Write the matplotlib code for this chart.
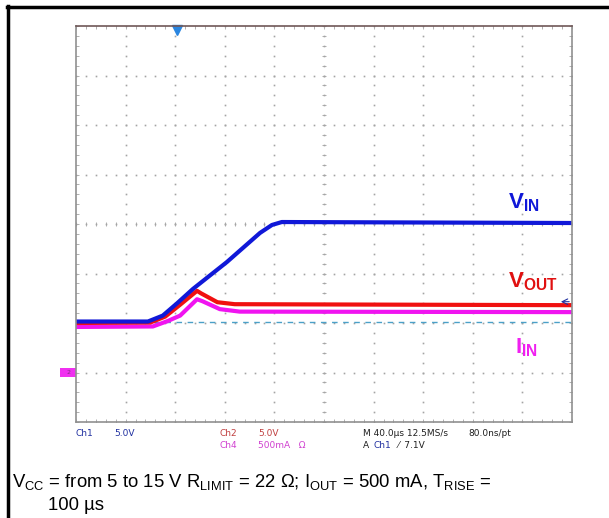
import numpy as np
import matplotlib.pyplot as plt
from matplotlib.lines import Line2D
from matplotlib.patches import Rectangle

plt.rcParams['mathtext.fontset'] = 'custom'
plt.rcParams['mathtext.rm'] = 'Liberation Sans'
plt.rcParams['mathtext.bf'] = 'Liberation Sans:bold'

# waveform key points, in divisions (x: 40 us/div, y: screen divisions)
t_vin = [0, 1.45, 1.75, 2.04, 2.36, 3.04, 3.71, 3.95, 4.15, 10]
vin = [2.03, 2.03, 2.15, 2.4, 2.69, 3.23, 3.82, 3.98, 4.04, 4.02]

t_vout = [0, 1.5, 1.8, 2.1, 2.44, 2.52, 2.85, 3.2, 10]
vout = [2.0, 2.01, 2.13, 2.37, 2.65, 2.6, 2.42, 2.38, 2.36]

t_iin = [0, 1.55, 1.85, 2.1, 2.44, 2.55, 2.9, 3.3, 10]
iin = [1.92, 1.93, 2.04, 2.15, 2.48, 2.44, 2.28, 2.23, 2.22]

ref_level = 2.02
trig_level = 2.43
trig_pos = 2.04
gnd4 = 1.0

fig = plt.figure(figsize=(6.09, 5.18), dpi=100)
ax = fig.add_axes([76/609, 1-422/518, 496/609, 396/518])
ax.set_xlim(0, 10)
ax.set_ylim(0, 8)
ax.set_xticks([])
ax.set_yticks([])
for s in ax.spines.values():
    s.set_color('#909090')
    s.set_linewidth(1.2)
ax.spines['top'].set_color('#705858')

# scope graticule
gc = '#a4a4a4'
dots = np.arange(0, 8.01, 0.2)
for gx in range(1, 10):
    ax.plot(np.full_like(dots, gx), dots, ls='none', marker='s', ms=1.2, mew=0, color=gc)
dots = np.arange(0, 10.01, 0.2)
for gy in range(1, 8):
    ax.plot(dots, np.full_like(dots, gy), ls='none', marker='s', ms=1.2, mew=0, color=gc)
# center line ticks and edge ticks
tk = np.arange(0, 10.01, 0.2)
ax.plot(tk, np.full_like(tk, 4), ls='none', marker='|', ms=3, mew=0.6, color=gc)
ax.plot(tk, np.full_like(tk, 8), ls='none', marker='|', ms=5, mew=0.6, color=gc)
ax.plot(tk, np.full_like(tk, 0), ls='none', marker='|', ms=5, mew=0.6, color=gc)
tk = np.arange(0, 8.01, 0.2)
ax.plot(np.full_like(tk, 5), tk, ls='none', marker='_', ms=3, mew=0.6, color=gc)
ax.plot(np.full_like(tk, 0), tk, ls='none', marker='_', ms=5, mew=0.6, color=gc)
ax.plot(np.full_like(tk, 10), tk, ls='none', marker='_', ms=5, mew=0.6, color=gc)

ax.axhline(ref_level, color='#4aa0c8', lw=1.0, ls=(0, (4, 4)))

ax.plot(t_iin, iin, color='#f014f0', lw=3, solid_joinstyle='round')
ax.plot(t_vout, vout, color='#f01010', lw=3, solid_joinstyle='round')
ax.plot(t_vin, vin, color='#1018d8', lw=3, solid_joinstyle='round')

# markers
ax.plot([trig_pos], [7.92], marker='v', ms=7, color='#2a86e0', clip_on=False)
ax.annotate('', xy=(9.72, trig_level), xytext=(10, trig_level),
            arrowprops=dict(arrowstyle='->', color='#2030a0', lw=0.8), annotation_clip=False)
ax.add_patch(Rectangle((-0.32, gnd4 - 0.09), 0.32, 0.18, fc='#f030f0', ec='none',
                       transform=ax.transData, clip_on=False))
ax.text(-0.16, gnd4, '2', color='#803080', fontsize=4.5, ha='center', va='center', clip_on=False)

ax.text(8.7, 4.2, r'$\mathbf{V_{IN}}$', color='#1018d8', fontsize=16, ha='left', va='bottom')
ax.text(8.7, 2.6, r'$\mathbf{V_{OUT}}$', color='#e01010', fontsize=16, ha='left', va='bottom')
ax.text(8.85, 1.28, r'$\mathbf{I_{IN}}$', color='#f020f0', fontsize=16, ha='left', va='bottom')

# scope readout
def px(x, y, s, c, **kw):
    fig.text(x/609, 1-y/518, s, color=c, fontsize=6.5, va='center', ha='left', **kw)

px(76, 434, 'Ch1', '#2030a0')
px(114, 434, '5.0V', '#2030a0')
px(220, 434, 'Ch2', '#c04040')
px(258, 434, '5.0V', '#c04040')
px(220, 445, 'Ch4', '#d040d0')
px(258, 445, '500mA   Ω', '#d040d0')
px(363, 434, 'M 40.0µs 12.5MS/s', '#202020')
px(468, 434, '80.0ns/pt', '#202020')
px(363, 445, 'A', '#202020')
px(374, 445, 'Ch1', '#2030a0')
px(398, 445, '⁄  7.1V', '#202020')

fig.text(12/609, 1-482/518,
         r'V$_{\mathregular{CC}}$ = from 5 to 15 V R$_{\mathregular{LIMIT}}$ = 22 Ω; '
         r'I$_{\mathregular{OUT}}$ = 500 mA, T$_{\mathregular{RISE}}$ =',
         fontsize=13.3, family='Liberation Sans', va='center', ha='left')
fig.text(48/609, 1-505/518, '100 µs', fontsize=13.3, family='Liberation Sans',
         va='center', ha='left')

# outer box
fig.add_artist(Line2D([8/609, 8/609], [0, 1-6/518], color='black', lw=2.5, transform=fig.transFigure))
fig.add_artist(Line2D([7/609, 1], [1-7/518, 1-7/518], color='black', lw=2.5, transform=fig.transFigure))

fig.savefig('out.png', dpi=100)
